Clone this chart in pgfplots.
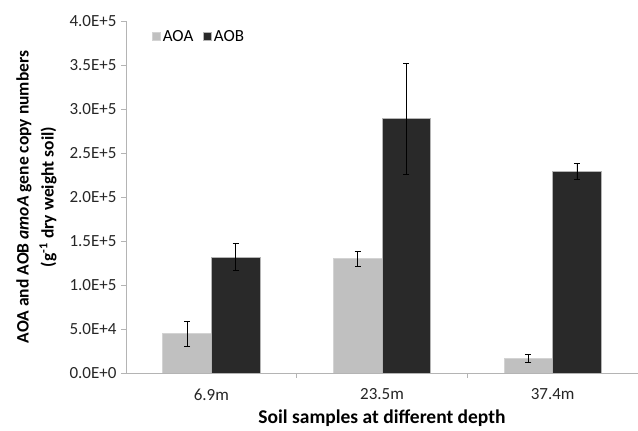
\documentclass[border=0pt]{standalone}
\usepackage{pgfplots}
\pgfplotsset{compat=1.18}
\usepackage{fontspec}
\setmainfont{Carlito}
\setsansfont{Carlito}
\definecolor{aoa}{RGB}{192,192,192}
\definecolor{aob}{RGB}{41,41,41}
\definecolor{axgray}{RGB}{180,180,180}
\begin{document}
\begin{tikzpicture}
\useasboundingbox (0,0) rectangle (638pt,431pt);
\begin{axis}[
    at={(126pt,58pt)}, anchor=south west,
    scale only axis,
    width=512pt, height=352pt,
    xmin=-0.5, xmax=2.5,
    ymin=0, ymax=400000,
    axis lines*=left,
    axis line style={axgray, line width=0.8pt},
    xtick={0,1,2},
    xticklabels={6.9m,23.5m,37.4m},
    major x tick style={draw=none},
    minor xtick={0.5,1.5},
    minor x tick style={axgray, line width=0.8pt},
    minor tick length=5pt,
    ytick={0,50000,100000,150000,200000,250000,300000,350000,400000},
    yticklabels={0.0E+0,5.0E+4,1.0E+5,1.5E+5,2.0E+5,2.5E+5,3.0E+5,3.5E+5,4.0E+5},
    y tick style={axgray, line width=0.8pt},
    major tick length=5pt,
    tick align=outside,
    scaled y ticks=false,
    tick label style={font=\fontsize{17}{19}\selectfont, text=black!85},
    yticklabel style={xshift=-1pt},
    xticklabel style={yshift=-7pt},
    xlabel={\textbf{Soil samples at different depth}},
    xlabel style={font=\fontsize{19.5}{22}\selectfont, yshift=-3pt},
    ylabel={\textbf{AOA and AOB \textit{amoA} gene copy numbers}\\\textbf{(g\textsuperscript{-1} dry weight soil)}},
    ylabel style={font=\fontsize{17.5}{25}\selectfont, align=center, yshift=6pt},
    ybar, bar width=0.285,
    legend style={at={(0.045,0.985)}, anchor=north west, draw=none, fill=none,
        font=\fontsize{17}{19}\selectfont, legend columns=2,
        /tikz/every even column/.append style={column sep=8pt}},
    legend image code/.code={\fill[#1] (0pt,-4pt) rectangle (8pt,4pt);},
]
\addplot[fill=aoa, draw=aoa!70!white, line width=0.6pt, bar shift=-0.1425,
    error bars/.cd, y dir=both, y explicit,
    error bar style={black, line width=0.7pt}, error mark options={black, line width=0.7pt, mark size=3pt, rotate=90}]
    coordinates {(0,44800) +- (0,14000) (1,130000) +- (0,8500) (2,16300) +- (0,4500)};
\addplot[fill=aob, draw=axgray, line width=0.6pt, bar shift=0.1425,
    error bars/.cd, y dir=both, y explicit,
    error bar style={black, line width=0.7pt}, error mark options={black, line width=0.7pt, mark size=3pt, rotate=90}]
    coordinates {(0,131800) +- (0,15600) (1,289000) +- (0,63200) (2,229200) +- (0,9400)};
\legend{AOA,AOB}
\end{axis}
\end{tikzpicture}
\end{document}
